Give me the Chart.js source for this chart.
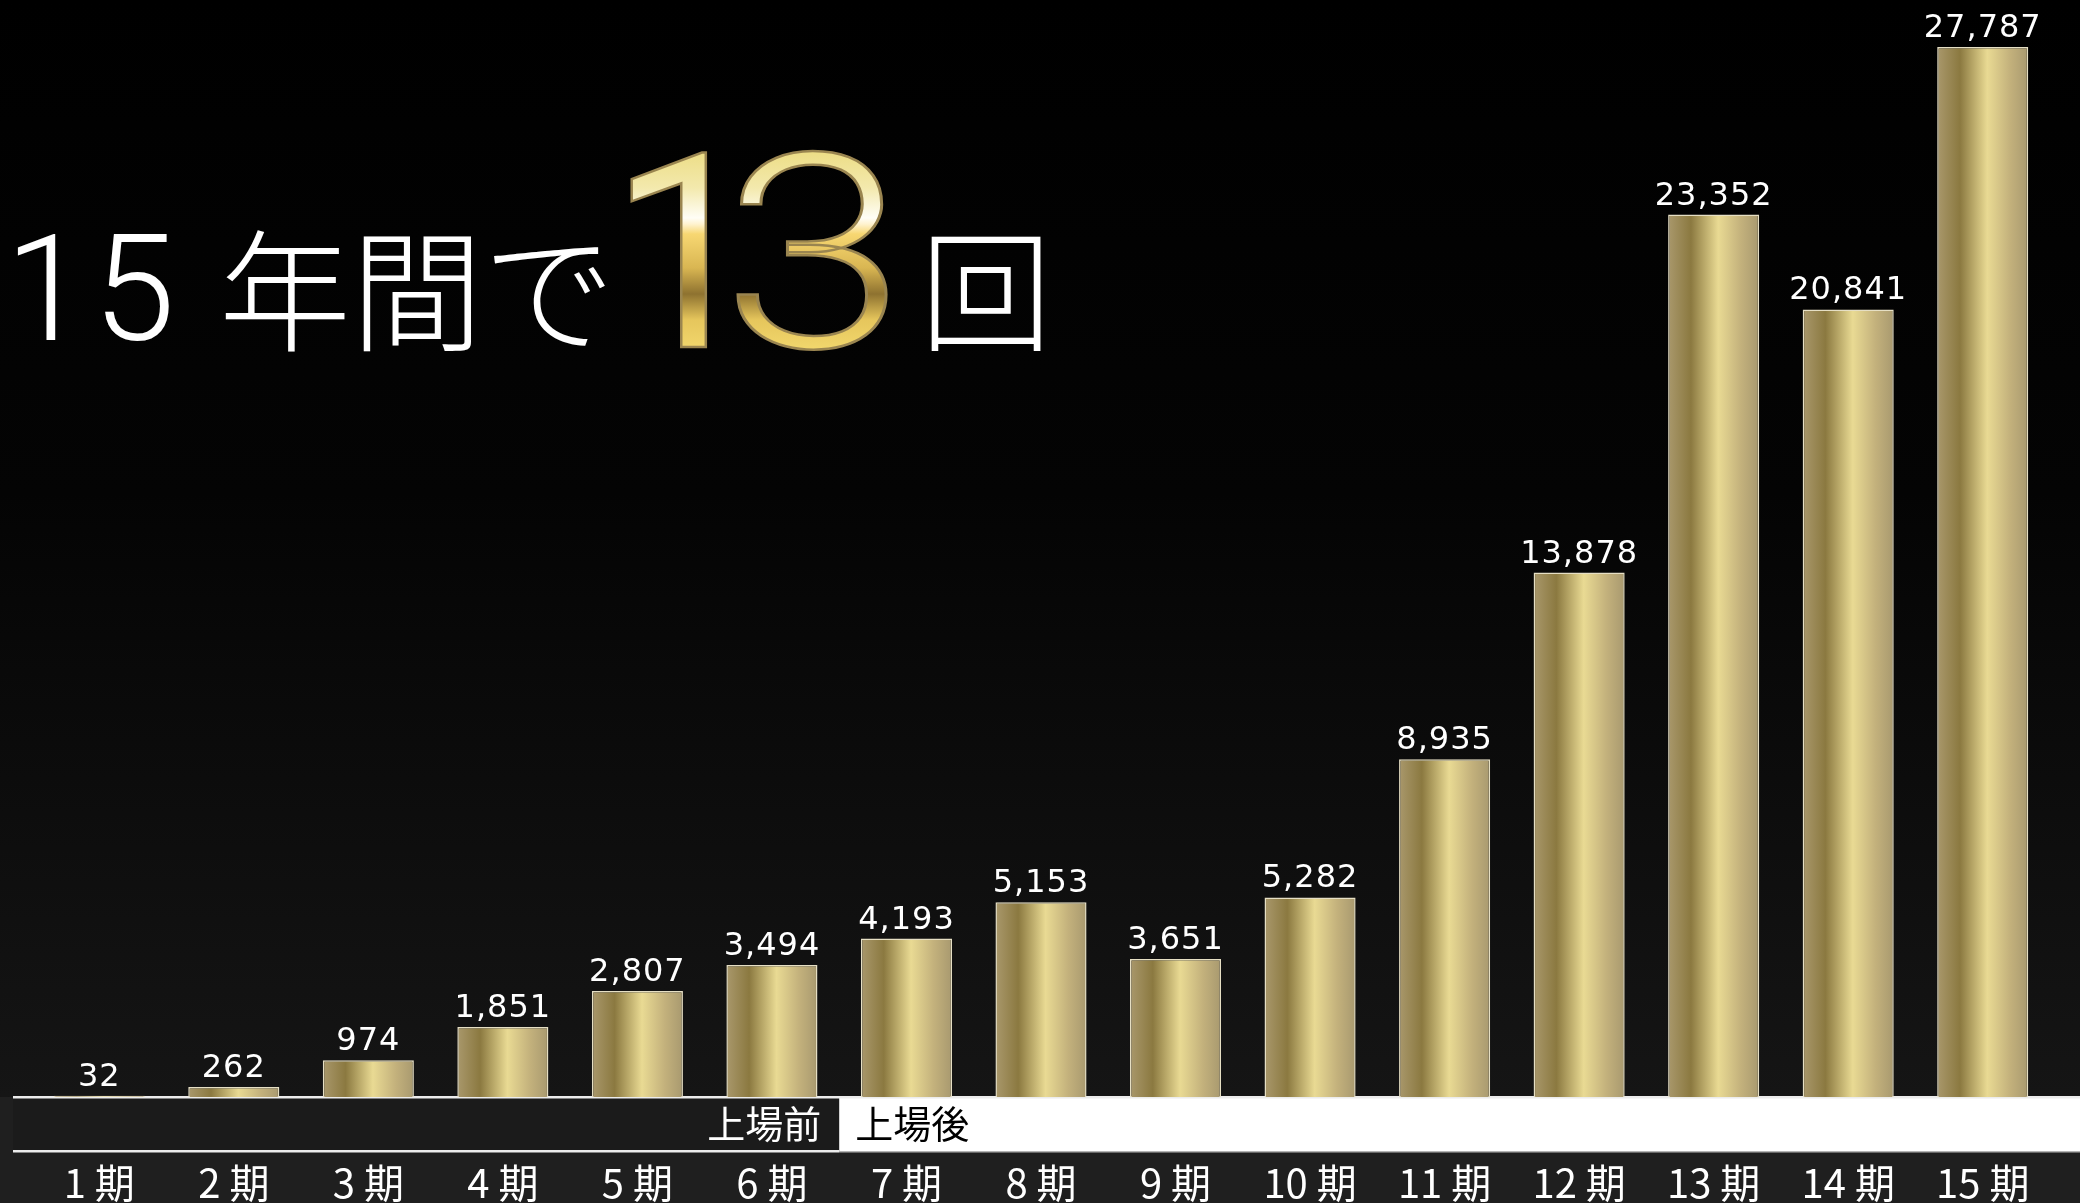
<!DOCTYPE html>
<html lang="ja">
<head>
<meta charset="utf-8">
<title>経常利益の推移</title>
<script src="https://cdn.jsdelivr.net/npm/chart.js@4.4.1/dist/chart.umd.min.js"></script>
<style>
  html, body { margin: 0; padding: 0; background: #000; overflow: hidden; }
</style>
</head>
<body>
<canvas id="chart" width="2080" height="1203"></canvas>
<script>
const periods = ["1 期", "2 期", "3 期", "4 期", "5 期", "6 期", "7 期", "8 期", "9 期", "10 期", "11 期", "12 期", "13 期", "14 期", "15 期"];
const profits = [32, 262, 974, 1851, 2807, 3494, 4193, 5153, 3651, 5282, 8935, 13878, 23352, 20841, 27787];
const yMax = 29030;
const listedFrom = 6; // 7期から上場後
const stageLabels = ["上場前", "上場後"];
const titleYears = "15";
const titleMid = "年間で";
const titleCount = ["1", "3"];
const titleUnit = "回";

const BAR_SHARE = 0.677;

// 金色のバー：バーごとに横方向のグラデーション
function goldFill(c) {
  const chart = c.chart;
  if (!chart.chartArea || c.dataIndex === undefined) return "#c8b474";
  const xs = chart.scales.x;
  const x = xs.getPixelForValue(c.dataIndex);
  const half = xs.width / periods.length * BAR_SHARE / 2;
  const g = chart.ctx.createLinearGradient(x - half, 0, x + half, 0);
  g.addColorStop(0, "#a9986c");
  g.addColorStop(0.25, "#8b7940");
  g.addColorStop(0.55, "#e9da93");
  g.addColorStop(0.8, "#c3b17c");
  g.addColorStop(1, "#a8996f");
  return g;
}

const backdrop = {
  id: "backdrop",
  beforeDraw(chart) {
    const { ctx, width, height, chartArea, scales } = chart;
    const base = chartArea.bottom;
    const bandH = 54;
    ctx.save();
    const bg = ctx.createLinearGradient(0, 0, 0, base);
    bg.addColorStop(0, "#000000");
    bg.addColorStop(0.45, "#040404");
    bg.addColorStop(1, "#151515");
    ctx.fillStyle = bg;
    ctx.fillRect(0, 0, width, base);
    ctx.fillStyle = "#1f1f1f";
    ctx.fillRect(0, base, width, height - base);

    const split = (scales.x.getPixelForValue(listedFrom - 1) + scales.x.getPixelForValue(listedFrom)) / 2;
    ctx.fillStyle = "#1b1b1b";
    ctx.fillRect(13, base, split - 13, bandH);
    ctx.fillStyle = "#ffffff";
    ctx.fillRect(split, base, width - split, bandH + 1);

    ctx.fillStyle = "#ececec";
    ctx.fillRect(13, base - 1, width - 13, 2.5);
    ctx.fillRect(13, base + bandH - 1, split - 13, 2.5);
    ctx.fillStyle = "#b4b4b4";
    ctx.fillRect(split, base + bandH, width - split, 1.5);

    ctx.font = '400 38px "Noto Sans CJK JP"';
    ctx.textBaseline = "middle";
    ctx.fillStyle = "#ffffff";
    ctx.textAlign = "right";
    ctx.fillText(stageLabels[0], split - 18, base + bandH / 2);
    ctx.fillStyle = "#000000";
    ctx.textAlign = "left";
    ctx.fillText(stageLabels[1], split + 16, base + bandH / 2);
    ctx.restore();
  }
};

const valueLabels = {
  id: "valueLabels",
  afterDatasetsDraw(chart) {
    const { ctx } = chart;
    const meta = chart.getDatasetMeta(0);
    ctx.save();
    ctx.font = '32px "DejaVu Sans"';
    ctx.letterSpacing = "1px";
    ctx.fillStyle = "#ffffff";
    ctx.textAlign = "center";
    ctx.textBaseline = "alphabetic";
    meta.data.forEach((bar, i) => {
      ctx.fillText(profits[i].toLocaleString("en-US"), bar.x, bar.y - 10);
    });
    ctx.restore();
  }
};

function goldText(ctx, text, x, y, sx) {
  const gold = ctx.createLinearGradient(0, 148, 0, 348);
  gold.addColorStop(0, "#ecdc82");
  gold.addColorStop(0.2, "#f3e9ad");
  gold.addColorStop(0.35, "#fffef6");
  gold.addColorStop(0.38, "#fff3d0");
  gold.addColorStop(0.43, "#f7d772");
  gold.addColorStop(0.6, "#d9b652");
  gold.addColorStop(0.73, "#8e7230");
  gold.addColorStop(0.86, "#e6c65c");
  gold.addColorStop(1, "#f1d66c");
  ctx.save();
  ctx.translate(x, 0);
  ctx.scale(sx, 1);
  ctx.fillStyle = gold;
  ctx.fillText(text, 0, y);
  ctx.lineWidth = 2.5;
  ctx.strokeStyle = "#9a8550";
  ctx.strokeText(text, 0, y);
  ctx.restore();
}

const headline = {
  id: "headline",
  afterDraw(chart) {
    const { ctx } = chart;
    ctx.save();
    ctx.textBaseline = "alphabetic";
    ctx.textAlign = "left";
    ctx.fillStyle = "#ffffff";
    ctx.font = '300 148px Roboto';
    ctx.letterSpacing = "6px";
    ctx.fillText(titleYears, 5, 340);
    ctx.letterSpacing = "0px";
    ctx.font = '300 132px "Noto Sans CJK JP"';
    ctx.fillText(titleMid, 219, 341);

    ctx.font = '400 272px Roboto';
    goldText(ctx, titleCount[0], 609, 347, 1);
    ctx.font = '300 272px Roboto';
    goldText(ctx, titleCount[1], 722, 347, 1.22);

    ctx.fillStyle = "#ffffff";
    ctx.font = '300 132px "Noto Sans CJK JP"';
    ctx.fillText(titleUnit, 920, 341);
    ctx.restore();
  }
};

new Chart(document.getElementById("chart"), {
  type: "bar",
  data: {
    labels: periods,
    datasets: [{
      data: profits,
      backgroundColor: goldFill,
      borderColor: "#e6dfc4",
      borderWidth: 1.5,
      categoryPercentage: 1,
      barPercentage: BAR_SHARE
    }]
  },
  options: {
    responsive: false,
    animation: false,
    devicePixelRatio: 1,
    layout: { padding: { left: 32, right: 30, top: 0, bottom: 0 } },
    plugins: {
      legend: { display: false },
      tooltip: { enabled: false }
    },
    scales: {
      x: {
        grid: { display: false, drawTicks: false },
        border: { display: false },
        ticks: {
          color: "#ffffff",
          padding: 62,
          font: { family: '"Liberation Sans Narrow", "Noto Sans CJK JP"', size: 40 }
        },
        afterFit(scale) {
          scale.height = 106;
          // ラベル余白で横幅が縮まないようにする
          scale.paddingLeft = 0;
          scale.paddingRight = 0;
        }
      },
      y: {
        display: false,
        min: 0,
        max: yMax
      }
    }
  },
  plugins: [backdrop, valueLabels, headline]
});
</script>
</body>
</html>
